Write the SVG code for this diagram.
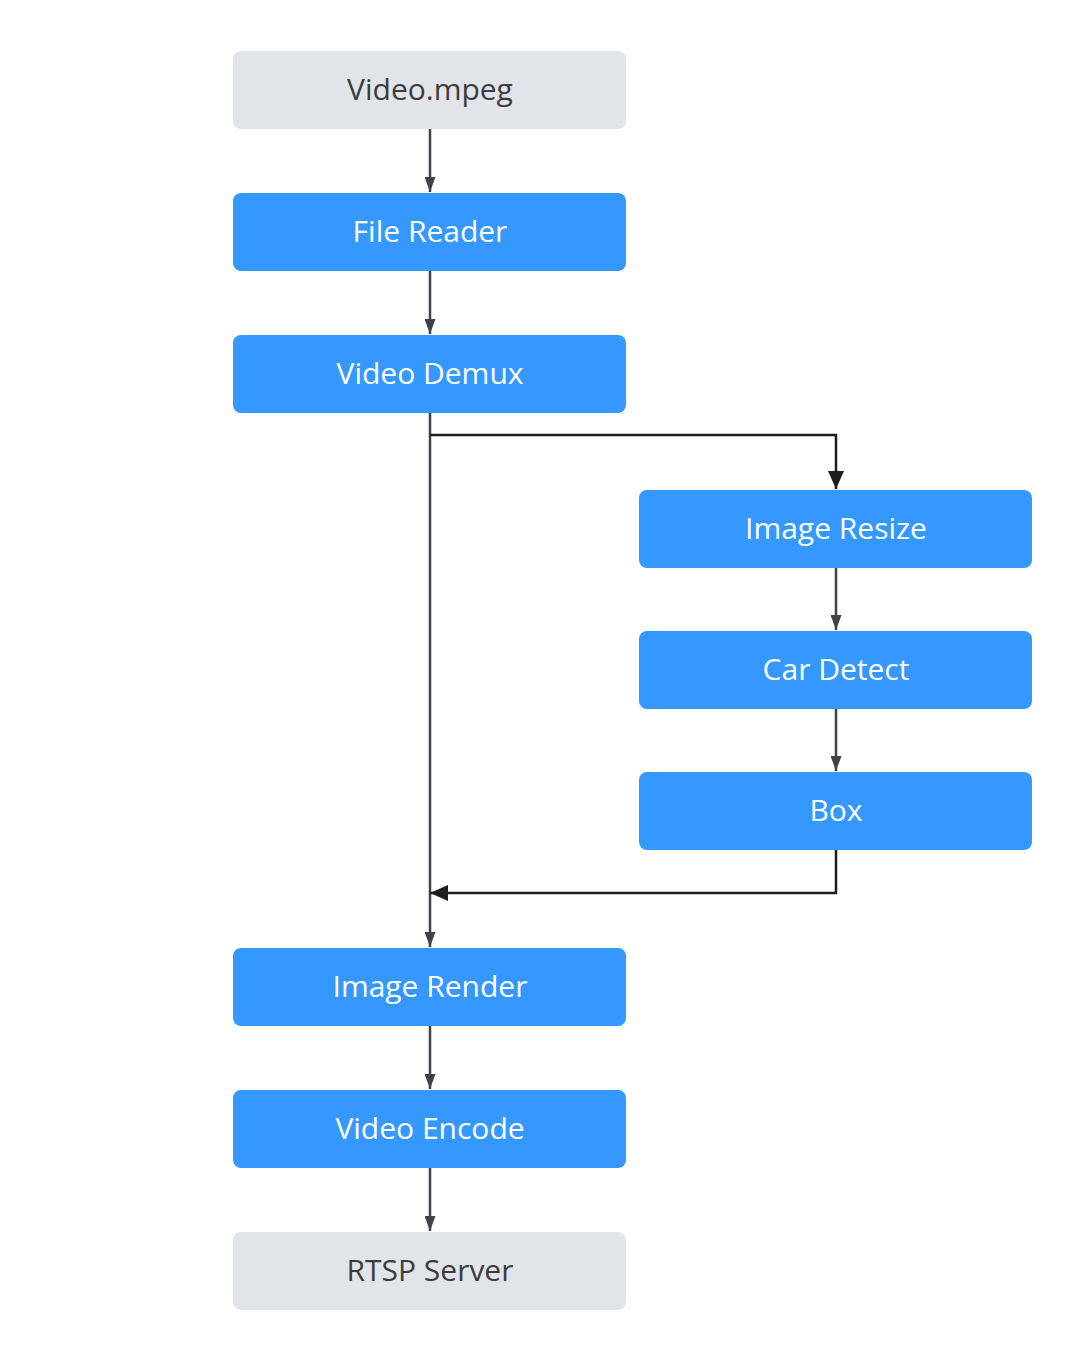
<svg xmlns="http://www.w3.org/2000/svg" width="1085" height="1355" viewBox="0 0 1085 1355">
<defs>
<style>
.gray rect{fill:#e1e4e8}
.blue rect{fill:#3598fe}
text{font-family:"Open Sans","Noto Sans",sans-serif;font-size:30px;text-anchor:middle}
.gray text{fill:#3c3c3c}
.blue text{fill:#ffffff}
.c{fill:none;stroke:#404247;stroke-width:2.5;marker-end:url(#a)}
.k{fill:none;stroke:#1d1d1b;stroke-width:2.5;marker-end:url(#b)}
</style>
<marker id="a" viewBox="0 0 15 11" markerWidth="15" markerHeight="11" refX="15" refY="5.5" orient="auto" markerUnits="userSpaceOnUse"><path d="M0,0 L15,5.5 L0,11 z" fill="#404247"/></marker>
<marker id="b" viewBox="0 0 18 16" markerWidth="18" markerHeight="16" refX="18" refY="8" orient="auto" markerUnits="userSpaceOnUse"><path d="M0,0 L18,8 L0,16 z" fill="#1d1d1b"/></marker>
</defs>
<rect width="1085" height="1355" fill="#ffffff"/>
<g id="connectors">
<path class="c" d="M430,129 V192"/>
<path class="c" d="M430,271 V334"/>
<path class="c" d="M430,413 V947"/>
<path class="k" d="M430,435 H836 V489"/>
<path class="c" d="M836,568 V630"/>
<path class="c" d="M836,709 V771"/>
<path class="k" d="M836,850 V893 H430"/>
<path class="c" d="M430,1026 V1089"/>
<path class="c" d="M430,1168 V1231"/>
</g>
<g id="video-mpeg" class="gray"><rect x="233" y="51" width="393" height="78" rx="8"/><text x="430" y="100">Video.mpeg</text></g>
<g id="file-reader" class="blue"><rect x="233" y="193" width="393" height="78" rx="8"/><text x="430" y="242">File Reader</text></g>
<g id="video-demux" class="blue"><rect x="233" y="335" width="393" height="78" rx="8"/><text x="430" y="384">Video Demux</text></g>
<g id="image-resize" class="blue"><rect x="639" y="490" width="393" height="78" rx="8"/><text x="836" y="539">Image Resize</text></g>
<g id="car-detect" class="blue"><rect x="639" y="631" width="393" height="78" rx="8"/><text x="836" y="680">Car Detect</text></g>
<g id="box" class="blue"><rect x="639" y="772" width="393" height="78" rx="8"/><text x="836" y="821">Box</text></g>
<g id="image-render" class="blue"><rect x="233" y="948" width="393" height="78" rx="8"/><text x="430" y="997">Image Render</text></g>
<g id="video-encode" class="blue"><rect x="233" y="1090" width="393" height="78" rx="8"/><text x="430" y="1139">Video Encode</text></g>
<g id="rtsp-server" class="gray"><rect x="233" y="1232" width="393" height="78" rx="8"/><text x="430" y="1281">RTSP Server</text></g>
</svg>
